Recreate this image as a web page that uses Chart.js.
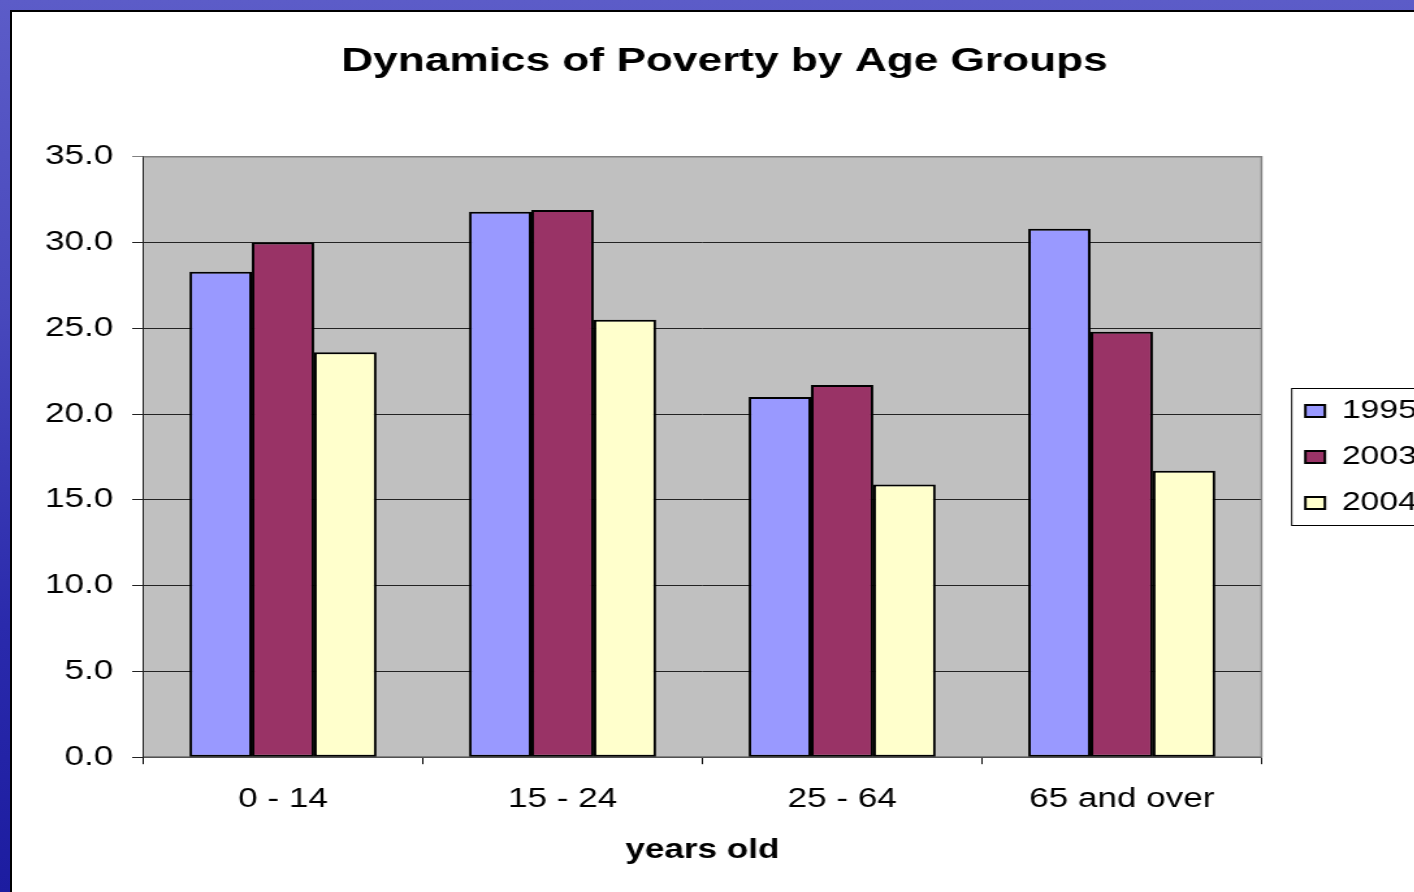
<!DOCTYPE html>
<html>
<head>
<meta charset="utf-8">
<script src="https://cdn.jsdelivr.net/npm/chart.js@4/dist/chart.umd.min.js"></script>
<style>
  html, body { margin: 0; padding: 0; width: 1414px; height: 892px; overflow: hidden; }
  body { background: linear-gradient(to bottom, #5c5cc8 0%, #4848bc 35%, #2a2aac 70%, #1c1ca0 100%); position: relative; }
  #frame { position: absolute; left: 10px; top: 10px; width: 1440px; height: 900px; background: #fff;
           border-left: 2px solid #000; border-top: 2px solid #000; }
  #chart { position: absolute; left: 7px; top: 0; }
</style>
</head>
<body>
<div id="frame"><canvas id="chart" width="1085" height="880" style="width:1410.5px;height:880px"></canvas></div>
<script>
// data
const ageGroups = ['0 - 14', '15 - 24', '25 - 64', '65 and over'];
const years = ['1995', '2003', '2004'];
const poverty1995 = [28.3, 31.8, 21.0, 30.8];
const poverty2003 = [30.0, 31.9, 21.7, 24.8];
const poverty2004 = [23.6, 25.5, 15.9, 16.7];
const yTicks = [0, 5, 10, 15, 20, 25, 30, 35];

const fillColors = ['#9999FF', '#993366', '#FFFFCC'];
const FONT = "'Liberation Sans', Arial, sans-serif";

// gray plot area + gray top/right border
const plotBackground = {
    id: 'plotBackground',
    beforeDraw(chart) {
        const {ctx, chartArea: a} = chart;
        ctx.save();
        ctx.fillStyle = '#C0C0C0';
        ctx.fillRect(a.left, a.top, a.right - a.left, a.bottom - a.top);
        ctx.restore();
    },
    afterDatasetsDraw(chart) {
        const {ctx, chartArea: a} = chart;
        ctx.save();
        ctx.strokeStyle = '#808080';
        ctx.lineWidth = 1.5;
        ctx.beginPath();
        ctx.moveTo(a.left, a.top);
        ctx.lineTo(a.right, a.top);
        ctx.lineTo(a.right, a.bottom);
        ctx.stroke();
        ctx.restore();
    }
};

// frame around the legend
const legendFrame = {
    id: 'legendFrame',
    afterDraw(chart) {
        const boxes = chart.legend.legendHitBoxes;
        if (!boxes || !boxes.length) return;
        const first = boxes[0];
        const last = boxes[boxes.length - 1];
        const ctx = chart.ctx;
        ctx.save();
        ctx.strokeStyle = '#000';
        ctx.lineWidth = 1;
        ctx.strokeRect(first.left - 10.5, first.top - 9.5, chart.width + 20, last.top + last.height - first.top + 19);
        ctx.restore();
    }
};

const ctx = document.getElementById('chart').getContext('2d');
const povertyChart = new Chart(ctx, {
    type: 'bar',
    data: {
        labels: ageGroups,
        datasets: [poverty1995, poverty2003, poverty2004].map((vals, i) => ({
            label: years[i],
            data: vals,
            yAxisID: 'y',
            backgroundColor: fillColors[i],
            borderColor: '#000',
            borderWidth: 2,
            borderSkipped: false,
            categoryPercentage: 0.669,
            barPercentage: 1.0
        }))
    },
    options: {
        responsive: false,
        animation: false,
        devicePixelRatio: 1,
        layout: { padding: { left: 0, right: 0, top: 0, bottom: 25 } },
        plugins: {
            title: {
                display: true,
                text: 'Dynamics of Poverty by Age Groups',
                color: '#000',
                font: { family: FONT, size: 34, weight: 'bold' },
                padding: { top: 29, bottom: 75 }
            },
            legend: {
                position: 'right',
                fullSize: false,
                labels: {
                    color: '#000',
                    font: { family: FONT, size: 26 },
                    boxWidth: 15,
                    boxHeight: 12,
                    padding: 20
                }
            },
            tooltip: { enabled: false }
        },
        scales: {
            x: {
                grid: {
                    offset: true,
                    drawOnChartArea: false,
                    drawTicks: true,
                    tickLength: 7,
                    color: '#000'
                },
                border: { display: true, color: '#808080', width: 1.5 },
                ticks: {
                    color: '#000',
                    font: { family: FONT, size: 27 },
                    padding: 19,
                    maxRotation: 0,
                    autoSkip: false
                },
                title: {
                    display: true,
                    text: 'years old',
                    color: '#000',
                    font: { family: FONT, size: 27, weight: 'bold' },
                    padding: { top: 0, bottom: 0 }
                }
            },
            y: {
                min: yTicks[0],
                max: yTicks[yTicks.length - 1],
                afterBuildTicks(scale) {
                    scale.ticks = yTicks.map(v => ({ value: v }));
                },
                afterFit(scale) { scale.width = 95.5; },
                grid: {
                    color: (c) => c.tick && c.tick.value === yTicks[yTicks.length - 1] ? '#808080' : '#222',
                    lineWidth: 1,
                    tickLength: 8.5
                },
                border: { display: true, color: '#222', width: 1 },
                ticks: {
                    color: '#000',
                    font: { family: FONT, size: 27 },
                    padding: 14.5,
                    callback: (v) => Number(v).toFixed(1)
                }
            },
            // empty spacer between the plot and the legend
            gap: {
                type: 'linear',
                position: 'right',
                display: true,
                grid: { display: false, drawTicks: false },
                border: { display: false },
                ticks: { display: false },
                afterFit(scale) { scale.width = 13.7; }
            }
        }
    },
    plugins: [plotBackground, legendFrame]
});
</script>
</body>
</html>
